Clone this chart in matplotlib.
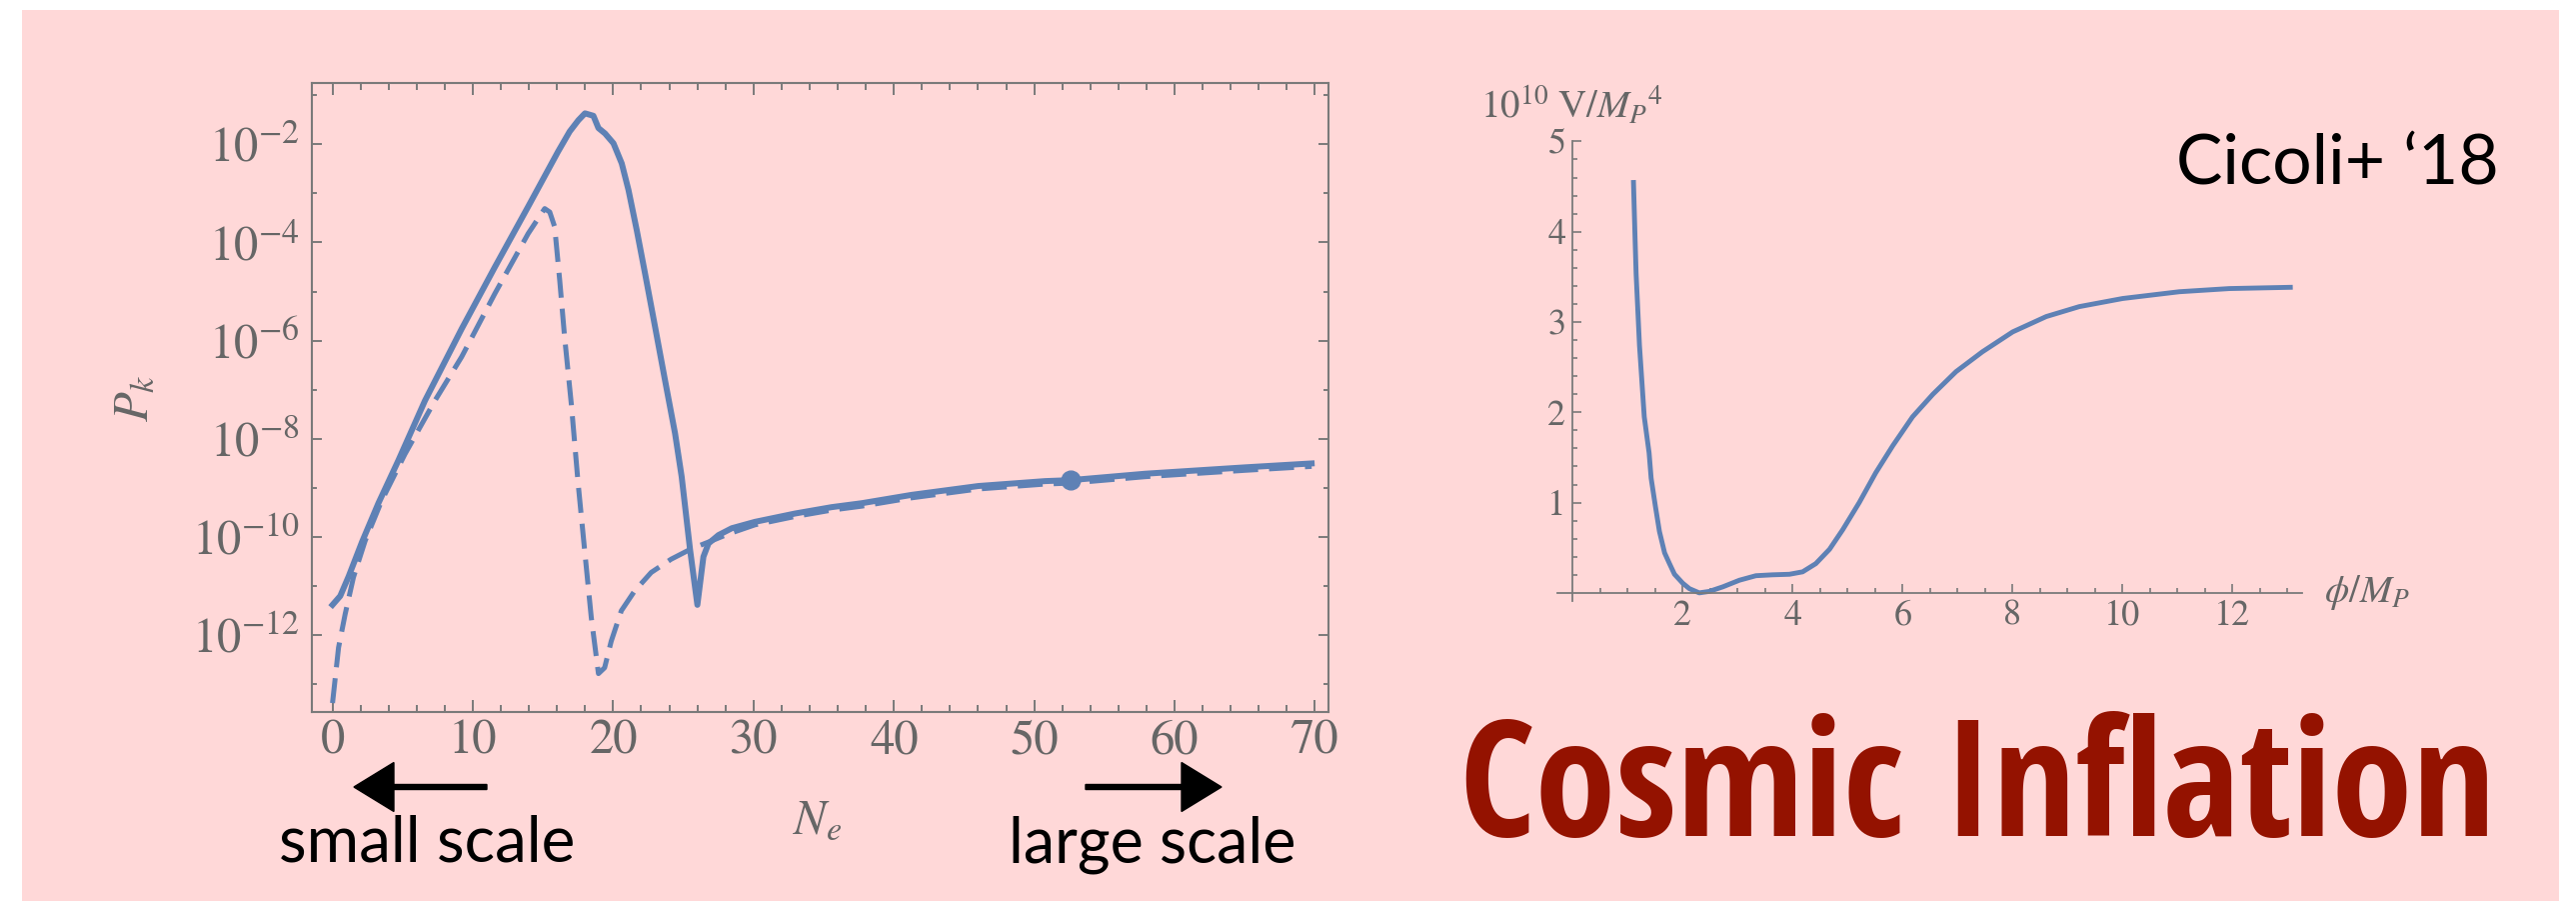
import numpy as np
import matplotlib
matplotlib.use("Agg")
import matplotlib.pyplot as plt
from matplotlib.patches import Rectangle, FancyArrow
from matplotlib.ticker import FixedLocator, NullFormatter, FixedFormatter
from matplotlib.transforms import IdentityTransform

# ---------------- data ----------------
N_solid = [0.0, 0.55, 1.15, 2.1, 3.27, 4.69, 6.59, 9.2, 11.57, 13.94, 16.07, 16.9, 17.52,
           17.99, 18.59, 18.95, 19.42, 20.02, 20.61, 21.09, 21.68, 22.27, 22.98, 23.69,
           24.41, 24.88, 25.48, 26.0, 26.43, 26.79, 27.5, 28.45, 30.1, 32.96, 35.57,
           37.71, 41.27, 46.02, 50.77, 52.6, 57.89, 65.01, 69.77]
log10P_solid = [-11.38, -11.2, -10.8, -10.1, -9.31, -8.44, -7.22, -5.76, -4.5, -3.27, -2.15,
                -1.74, -1.51, -1.37, -1.42, -1.67, -1.78, -1.98, -2.39, -2.93, -3.75, -4.63,
                -5.71, -6.8, -7.89, -8.77, -10.26, -11.38, -10.4, -10.13, -9.96, -9.82,
                -9.69, -9.52, -9.39, -9.31, -9.14, -8.96, -8.86, -8.84, -8.71, -8.58, -8.5]

N_dashed = [0.0, 0.43, 0.9, 1.49, 2.32, 3.5, 5.16, 7.3, 9.2, 11.57, 13.94, 15.12,
            15.48, 15.83, 16.19, 16.54, 17.02, 17.5, 17.97, 18.44, 18.95, 19.39, 19.86,
            20.58, 21.52, 22.71, 24.13, 25.56, 26.98, 28.17, 30.1, 32.96, 35.57, 37.71,
            41.27, 46.02, 50.77, 52.6, 57.89, 65.01, 69.77]
log10P_dashed = [-13.38, -12.25, -11.57, -10.82, -10.08, -9.26, -8.31, -7.22, -6.33,
                 -5.04, -3.82, -3.31, -3.38, -3.68, -4.77, -5.93, -7.3, -8.9, -10.28,
                 -11.64, -12.78, -12.66, -12.12, -11.5, -11.1, -10.72, -10.45, -10.24,
                 -10.08, -9.94, -9.75, -9.58, -9.45, -9.37, -9.2, -9.02, -8.92, -8.9,
                 -8.77, -8.64, -8.56]

N_point = [52.6]
log10P_point = [-8.84]

phi = [1.104, 1.133, 1.152, 1.213, 1.30, 1.388, 1.425, 1.503, 1.576, 1.67, 1.758, 1.85,
       2.0, 2.12, 2.30, 2.48, 2.73, 3.03, 3.33, 3.63, 3.94, 4.18, 4.42, 4.67, 4.91, 5.21,
       5.51, 5.82, 6.18, 6.55, 6.97, 7.45, 8.0, 8.61, 9.21, 10.0, 11.03, 11.94, 13.05]
V = [4.545, 3.92, 3.53, 2.74, 1.95, 1.55, 1.27, 0.957, 0.68, 0.443, 0.325, 0.206, 0.107,
     0.047, 0.0, 0.016, 0.067, 0.14, 0.19, 0.2, 0.206, 0.233, 0.324, 0.483, 0.70, 1.0,
     1.33, 1.63, 1.95, 2.2, 2.45, 2.67, 2.89, 3.06, 3.17, 3.26, 3.335, 3.37, 3.384]

left_xticks = [0, 10, 20, 30, 40, 50, 60, 70]
left_xminor = [2, 4, 6, 8, 12, 14, 16, 18, 22, 24, 26, 28, 32, 34, 36, 38, 42, 44, 46, 48,
               52, 54, 56, 58, 62, 64, 66, 68]
left_yexp = [-2, -4, -6, -8, -10, -12]
left_yexp_minor = [-1, -3, -5, -7, -9, -11, -13]
right_xticks = [2, 4, 6, 8, 10, 12]
right_yticks = [1, 2, 3, 4, 5]

title_text = "Cosmic Inflation"
ref_text = "Cicoli+ \u201818"
left_note = "small scale"
right_note = "large scale"

# ---------------- style ----------------
W, H, DPI = 2577, 901, 100
PINK = "#ffd8d8"
BLUE = "#5e81b5"
GRAY = "#666666"
FRAME = "#7a7a7a"
RED = "#941200"
BOLD_NARROW = ["Open Sans Condensed", "Liberation Sans Narrow", "Lato"]
SANS = ["Lato", "DejaVu Sans"]

plt.rcParams["mathtext.fontset"] = "stix"
plt.rcParams["font.family"] = "STIXGeneral"

fig = plt.figure(figsize=(W / DPI, H / DPI), dpi=DPI, facecolor="white")


def fx(px):
    return px / W


def fy(py):
    return 1 - py / H


fig.patches.append(Rectangle((fx(22), 0), fx(2560) - fx(22), fy(10), transform=fig.transFigure,
                             facecolor=PINK, edgecolor="none", zorder=-10))

# ---------------- left panel ----------------
ax = fig.add_axes([fx(312), fy(711.7), fx(1328.7) - fx(312), (711.7 - 83.3) / H])
ax.set_facecolor("none")
ax.set_yscale("log")
ax.plot(N_solid, np.power(10.0, log10P_solid), color=BLUE, lw=4.3, solid_joinstyle="round")
ax.plot(N_dashed, np.power(10.0, log10P_dashed), color=BLUE, lw=3.6, dashes=(5, 2.2))
ax.plot(N_point, np.power(10.0, log10P_point), "o", color=BLUE, ms=13.5)
ax.set_xlim(-1.47, 70.95)
ax.set_ylim(10 ** -13.556, 10 ** -0.758)

ax.xaxis.set_major_locator(FixedLocator(left_xticks))
ax.xaxis.set_minor_locator(FixedLocator(left_xminor))
ax.yaxis.set_major_locator(FixedLocator([10.0 ** e for e in left_yexp]))
ax.yaxis.set_major_formatter(FixedFormatter([r"$10^{%d}$" % e for e in left_yexp]))
ax.yaxis.set_minor_locator(FixedLocator([10.0 ** e for e in left_yexp_minor]))
ax.yaxis.set_minor_formatter(NullFormatter())
ax.tick_params(which="both", direction="in", top=True, right=True, color=FRAME, width=1.4,
               labelcolor=GRAY, labelsize=35)
ax.tick_params(axis="x", which="major", length=8.6, pad=6)
ax.tick_params(axis="x", which="minor", length=5)
ax.tick_params(axis="y", which="major", length=7.2, pad=9)
ax.tick_params(axis="y", which="minor", length=3.6)
for s in ax.spines.values():
    s.set_color(FRAME)
    s.set_linewidth(1.5)

fig.text(fx(136), fy(398), r"$P_k$", rotation=90, ha="center", va="center", fontsize=35,
         color=GRAY)
fig.text(fx(818), fy(822), r"$N_e$", ha="center", va="center", fontsize=35, color=GRAY)

# ---------------- right panel ----------------
ax2 = fig.add_axes([fx(1558), fy(601), fx(2303.3) - fx(1558), (601 - 141.4) / H])
ax2.set_facecolor("none")
ax2.plot(phi, V, color=BLUE, lw=3.5, solid_joinstyle="round")
ax2.set_xlim(-0.28, 13.27)
ax2.set_ylim(-0.09, 5.0)
ax2.spines["left"].set_position(("data", 0))
ax2.spines["bottom"].set_position(("data", 0))
ax2.spines["top"].set_visible(False)
ax2.spines["right"].set_visible(False)
for s in ("left", "bottom"):
    ax2.spines[s].set_color(FRAME)
    ax2.spines[s].set_linewidth(1.3)
ax2.xaxis.set_major_locator(FixedLocator(right_xticks))
ax2.xaxis.set_minor_locator(FixedLocator([t / 2 for t in range(1, 27) if t % 4 != 0]))
ax2.yaxis.set_major_locator(FixedLocator(right_yticks))
ax2.yaxis.set_minor_locator(FixedLocator([t / 5 for t in range(1, 25) if t % 5 != 0]))
ax2.tick_params(which="both", direction="in", color=FRAME, width=1.2, labelcolor=GRAY,
                labelsize=26)
ax2.tick_params(which="major", length=6.5, pad=5)
ax2.tick_params(which="minor", length=3.6)

fig.text(fx(1481), fy(118), r"$10^{10}\ \mathrm{V}/{M_P}^4$", ha="left", va="baseline",
         fontsize=28, color=GRAY)
fig.text(fx(2325), fy(592), r"$\phi/M_P$", ha="left", va="center", fontsize=28, color=GRAY)

# ---------------- annotations ----------------
renderer = fig.canvas.get_renderer()


def fitted(x0, x1, y, s, grow=1.0, ha="center", **kw):
    """Size a text to span x0..x1 (pixels), optionally enlarged by `grow`."""
    anchor = {"left": x0, "right": x1, "center": 0.5 * (x0 + x1)}[ha]
    t = fig.text(fx(anchor), fy(y), s, ha=ha, va="baseline", fontsize=40, **kw)
    bb = t.get_window_extent(renderer)
    t.set_fontsize(40 * (x1 - x0) / bb.width * grow)
    return t


fitted(1460, 2494, 836, title_text, ha="left", color=RED, family=BOLD_NARROW,
       fontweight="bold")
fitted(2226, 2500, 184, ref_text, grow=1.18, ha="right", color="black", family=SANS)
fitted(292, 562, 862, left_note, grow=1.1, color="black", family=SANS)
fitted(1022, 1283, 862, right_note, grow=1.1, color="black", family=SANS)

for x0, x1 in ((487, 354), (1086, 1222)):
    fig.patches.append(FancyArrow(x0, H - 787, x1 - x0, 0, width=5, head_width=49,
                                  head_length=40, length_includes_head=True,
                                  color="black", transform=IdentityTransform()))

fig.savefig("out.png", dpi=DPI, facecolor="white")
